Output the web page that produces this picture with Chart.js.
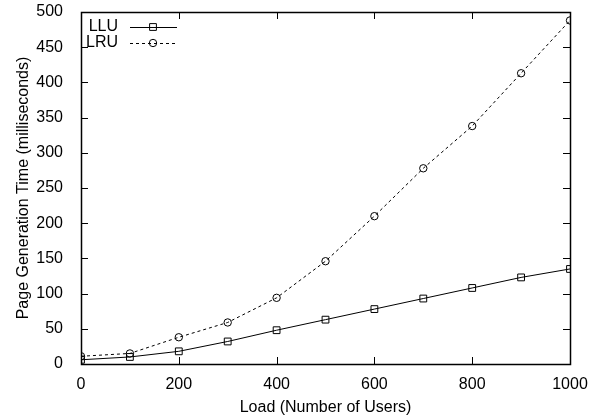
<!DOCTYPE html>
<html>
<head>
<meta charset="utf-8">
<script src="https://cdn.jsdelivr.net/npm/chart.js@4/dist/chart.umd.min.js"></script>
<style>
  html, body { margin: 0; padding: 0; background: #fff; }
  #wrap { width: 599px; height: 417px; }
</style>
</head>
<body>
<div id="wrap"><canvas id="myChart" width="599" height="417"></canvas></div>
<script>
// users on the x axis
const loadUsers = [0, 100, 200, 300, 400, 500, 600, 700, 800, 900, 1000];
// page generation time (ms)
const lluTimes = [6, 10, 18, 32, 48, 63, 78, 93, 108, 123, 135];
const lruTimes = [11, 15, 38, 59, 94, 146, 210, 278, 338, 413, 488];

const seriesNames = ["LLU", "LRU"];
const fontFam = "'Liberation Sans', Arial, Helvetica, sans-serif";

const toPoints = (ys) => loadUsers.map((x, i) => ({ x: x, y: ys[i] }));

// gnuplot style frame, inward ticks and a legend with text first then the sample
const gnuplotLook = {
  id: "gnuplotLook",
  afterDraw(chart) {
    const ctx = chart.ctx;
    const a = chart.chartArea;
    const xs = chart.scales.x;
    const ys = chart.scales.y;
    const tl = 7;
    ctx.save();
    ctx.strokeStyle = "#000";
    ctx.lineWidth = 1;
    ctx.setLineDash([]);
    ctx.beginPath();
    xs.ticks.forEach((t) => {
      const px = Math.round(xs.getPixelForValue(t.value)) + 0.5;
      ctx.moveTo(px, a.bottom);
      ctx.lineTo(px, a.bottom - tl);
      ctx.moveTo(px, a.top);
      ctx.lineTo(px, a.top + tl);
    });
    ys.ticks.forEach((t) => {
      const py = Math.round(ys.getPixelForValue(t.value)) + 0.5;
      ctx.moveTo(a.left, py);
      ctx.lineTo(a.left + tl, py);
      ctx.moveTo(a.right, py);
      ctx.lineTo(a.right - tl, py);
    });
    ctx.stroke();
    ctx.lineWidth = 1.5;
    ctx.strokeRect(Math.round(a.left) + 0.5, Math.round(a.top) + 0.5,
      Math.round(a.right - a.left), Math.round(a.bottom - a.top));

    // legend
    ctx.font = "16px " + fontFam;
    ctx.textAlign = "right";
    ctx.textBaseline = "middle";
    chart.data.datasets.forEach((ds, i) => {
      const y = a.top + 15 + i * 16;
      ctx.fillStyle = "#000";
      ctx.fillText(ds.label, a.left + 37, y);
      ctx.lineWidth = 1;
      ctx.setLineDash(ds.borderDash || []);
      ctx.beginPath();
      ctx.moveTo(a.left + 49, y + 0.5);
      ctx.lineTo(a.left + 96, y + 0.5);
      ctx.stroke();
      ctx.setLineDash([]);
      ctx.fillStyle = "rgba(0,0,0,0)";
      Chart.helpers.drawPoint(ctx, {
        pointStyle: ds.pointStyle,
        radius: ds.pointRadius,
        borderWidth: 1
      }, a.left + 72, y);
    });
    ctx.restore();
  }
};

const config = {
  type: "line",
  data: {
    datasets: [
      {
        label: seriesNames[0],
        data: toPoints(lluTimes),
        borderColor: "#000",
        backgroundColor: "rgba(0,0,0,0)",
        borderWidth: 1,
        pointStyle: "rect",
        pointRadius: 4.8,
        pointBorderWidth: 1,
        pointBorderColor: "#000",
        pointBackgroundColor: "rgba(0,0,0,0)",
        tension: 0
      },
      {
        label: seriesNames[1],
        data: toPoints(lruTimes),
        borderColor: "#000",
        backgroundColor: "rgba(0,0,0,0)",
        borderWidth: 1,
        borderDash: [3, 3],
        pointStyle: "circle",
        pointRadius: 3.7,
        pointBorderWidth: 1,
        pointBorderColor: "#000",
        pointBackgroundColor: "rgba(0,0,0,0)",
        tension: 0
      }
    ]
  },
  options: {
    responsive: false,
    animation: false,
    layout: { padding: { top: 12, right: 29, left: 0, bottom: 0 } },
    plugins: {
      legend: { display: false },
      tooltip: { enabled: false }
    },
    scales: {
      x: {
        type: "linear",
        min: 0,
        max: 1000,
        grid: { display: false },
        border: { display: false },
        ticks: {
          stepSize: 200, color: "#000", padding: 3,
          font: { family: fontFam, size: 16 },
          callback: (v) => String(v)
        },
        title: { display: true, text: "Load (Number of Users)", color: "#000", padding: { top: 2, bottom: 0 }, font: { family: fontFam, size: 16 } },
        afterFit: (s) => { s.height = 53; s.paddingLeft = 0; s.paddingRight = 0; }
      },
      y: {
        min: 0,
        max: 500,
        grid: { display: false },
        border: { display: false },
        ticks: { stepSize: 50, color: "#000", padding: 10, font: { family: fontFam, size: 16 } },
        title: { display: true, text: "Page Generation Time (milliseconds)", color: "#000", padding: { top: 14 }, font: { family: fontFam, size: 16 } },
        afterFit: (s) => { s.width = 81; s.paddingTop = 0; s.paddingBottom = 0; }
      }
    }
  },
  plugins: [gnuplotLook]
};

var myChart = new Chart(document.getElementById("myChart"), config);
</script>
</body>
</html>
